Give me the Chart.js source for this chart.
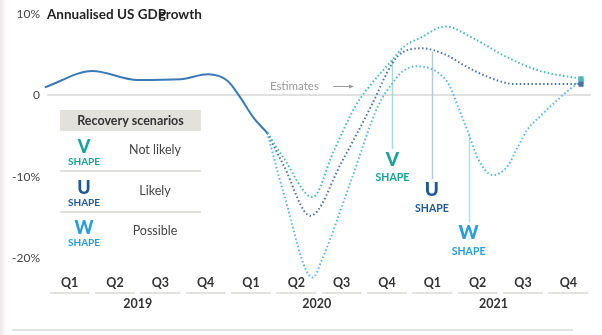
<!DOCTYPE html>
<html>
<head>
<meta charset="utf-8">
<script src="https://cdn.jsdelivr.net/npm/chart.js@4"></script>
<style>
  html, body { margin: 0; padding: 0; background: #fff; }
  #wrap { position: relative; width: 602px; height: 335px; }
  #edge { position: absolute; left: 0; top: 0; width: 7px; height: 335px;
          background: linear-gradient(90deg, #ece8e8, rgba(255,255,255,0)); }
</style>
</head>
<body>
<div id="wrap">
  <div id="edge"></div>
  <canvas id="gdpChart"></canvas>
</div>
<script>
// axis labels
const quarters = ["Q1", "Q2", "Q3", "Q4", "Q1", "Q2", "Q3", "Q4", "Q1", "Q2", "Q3", "Q4"];
const years = ["2019", "2020", "2021"];
const yTickValues = [10, 0, -10, -20];
const yTickLabels = ["10%", "0", "-10%", "-20%"];

// actual growth (x in quarters, 0 = Q1 2019)
const actualX = [-0.55, 0.5, 1.5, 2.45, 3.05, 3.48, 3.77, 4.05, 4.36];
const actualY = [1.0, 3.0, 1.9, 2.0, 2.6, 1.8, -0.3, -2.7, -4.6];

// recovery scenarios
const vX = [4.36, 4.72, 5.36, 5.82, 6.31, 6.64, 7.12, 7.37, 7.74, 8.29, 8.85, 9.58, 10.33, 11.28];
const vY = [-4.6, -7.7, -12.5, -6.9, -1.25, 1.3, 4.4, 6.0, 7.1, 8.5, 7.2, 4.9, 3.1, 2.05];

const uX = [4.36, 4.72, 5.31, 6.0, 6.67, 7.12, 7.37, 7.79, 8.26, 8.77, 9.22, 9.66, 9.88, 11.28];
const uY = [-4.6, -8.6, -14.8, -8.2, -1.1, 4.0, 5.4, 5.8, 5.1, 3.5, 2.3, 1.5, 1.4, 1.4];

const wX = [4.36, 4.72, 5.36, 5.58, 6.2, 6.81, 7.12, 7.34, 7.67, 7.93, 8.15, 8.37, 8.59, 8.8, 9.0, 9.33, 9.66, 9.88, 10.1, 10.39, 10.69, 11.06, 11.28];
const wY = [-4.6, -12.0, -22.4, -20.0, -10.6, -1.2, 1.5, 2.95, 3.6, 3.35, 2.7, 1.3, -1.7, -4.7, -7.7, -9.8, -8.7, -6.4, -4.2, -2.5, -0.9, 0.9, 1.75];

const scenarios = ["V", "U", "W"];
const likelihood = ["Not likely", "Likely", "Possible"];

const FONT = 'Lato, "Open Sans", sans-serif';
const colors = { actual: "#3a79b4", V: "#45bab0", U: "#4772a6", W: "#5ab3e8" };
const labelColors = { V: "#17a298", U: "#1c5a97", W: "#2a9bde" };

const pts = (xs, ys) => xs.map((x, i) => ({ x, y: ys[i] }));

function dotted(label, xs, ys, color) {
  return {
    label,
    data: pts(xs, ys),
    borderColor: color,
    backgroundColor: color,
    borderWidth: 2,
    borderDash: [1.5, 2.4],
    cubicInterpolationMode: "monotone",
    pointStyle: "rect",
    pointRadius: (c) => (c.dataIndex === xs.length - 1 ? 2.2 : 0),
    clip: false,
  };
}

// leader lines under the curves, in data units
const leaders = [
  { key: "V", x: 7.12, top: 4.4, bottom: -6.6, color: "#a6dbd6" },
  { key: "U", x: 7.99, top: 5.4, bottom: -10.3, color: "#b3c9df" },
  { key: "W", x: 8.8, top: -4.7, bottom: -15.6, color: "#b2daf2" },
];

const decorations = {
  id: "decorations",
  beforeDatasetsDraw(chart) {
    const { ctx } = chart;
    const xs = chart.scales.x, ys = chart.scales.y;
    ctx.save();
    ctx.lineWidth = 1.5;
    leaders.forEach((l) => {
      const px = Math.round(xs.getPixelForValue(l.x)) + 0.5;
      ctx.strokeStyle = l.color;
      ctx.beginPath();
      ctx.moveTo(px, ys.getPixelForValue(l.top));
      ctx.lineTo(px, ys.getPixelForValue(l.bottom));
      ctx.stroke();
    });
    ctx.restore();
  },
  afterDatasetsDraw(chart) {
    const { ctx } = chart;
    const xs = chart.scales.x, ys = chart.scales.y;
    ctx.save();
    ctx.textBaseline = "middle";

    // title (overprinted the way it was typeset)
    ctx.fillStyle = "#222";
    ctx.font = "bold 13.5px " + FONT;
    ctx.textAlign = "left";
    ctx.fillText("Annualised US GDP", 47, 15);
    ctx.fillText("growth", 47 + ctx.measureText("Annualised US GD").width + 1, 15);

    // estimates marker
    ctx.font = "11.5px " + FONT;
    ctx.fillStyle = "#9a9a9a";
    ctx.fillText("Estimates", 270, 86);
    ctx.strokeStyle = "#9a9a9a";
    ctx.lineWidth = 1;
    ctx.beginPath();
    ctx.moveTo(333, 86.5);
    ctx.lineTo(352, 86.5);
    ctx.stroke();
    ctx.beginPath();
    ctx.moveTo(354, 86.5);
    ctx.lineTo(349, 84.5);
    ctx.lineTo(349, 88.5);
    ctx.closePath();
    ctx.fillStyle = "#9a9a9a";
    ctx.fill();

    // quarter labels with underlines
    ctx.textAlign = "center";
    quarters.forEach((q, i) => {
      const px = xs.getPixelForValue(i);
      ctx.fillStyle = "#333";
      ctx.font = "bold 12.5px " + FONT;
      ctx.fillText(q, px, 283);
      ctx.fillStyle = "#e4e2de";
      ctx.fillRect(px - 20, 292, 40, 2);
    });
    const yearPos = [1.5, 5.45, 9.35];
    years.forEach((y, i) => {
      ctx.fillStyle = "#333";
      ctx.font = "bold 12.5px " + FONT;
      ctx.fillText(y, xs.getPixelForValue(yearPos[i]), 304);
    });
    ctx.fillStyle = "#e2e2e2";
    ctx.fillRect(12, 329, 561, 2);

    // scenario table
    ctx.fillStyle = "#e3e1dc";
    ctx.fillRect(60, 110, 141, 21);
    ctx.fillStyle = "#333";
    ctx.font = "bold 12.5px " + FONT;
    ctx.fillText("Recovery scenarios", 130.5, 121);
    const rowY = [147, 188, 228];
    scenarios.forEach((s, i) => {
      ctx.fillStyle = labelColors[s];
      ctx.font = "900 18px " + FONT;
      ctx.fillText(s, 84, rowY[i]);
      ctx.font = "bold 10px " + FONT;
      ctx.fillText("SHAPE", 84, rowY[i] + 15);
      ctx.fillStyle = "#444";
      ctx.font = "12.5px " + FONT;
      ctx.fillText(likelihood[i], 155, rowY[i] + 3);
      if (i < 2) {
        ctx.fillStyle = "#e2e0dc";
        ctx.fillRect(60, rowY[i] + 23, 141, 2);
      }
    });

    // scenario tags under the leader lines
    leaders.forEach((l) => {
      const px = xs.getPixelForValue(l.x);
      const py = ys.getPixelForValue(l.bottom);
      ctx.fillStyle = labelColors[l.key];
      ctx.font = "900 19px " + FONT;
      ctx.fillText(l.key, px, py + 11);
      ctx.font = "bold 10.5px " + FONT;
      ctx.fillText("SHAPE", px, py + 29);
    });
    ctx.restore();
  },
};

new Chart(document.getElementById("gdpChart"), {
  type: "line",
  data: {
    datasets: [
      {
        label: "Actual",
        data: pts(actualX, actualY),
        borderColor: colors.actual,
        borderWidth: 2,
        pointRadius: 0,
        cubicInterpolationMode: "monotone",
        clip: false,
      },
      dotted("V shape", vX, vY, colors.V),
      dotted("U shape", uX, uY, colors.U),
      dotted("W shape", wX, wY, colors.W),
    ],
  },
  options: {
    responsive: true,
    maintainAspectRatio: false,
    animation: false,
    layout: { padding: { top: 10, right: 11, bottom: 77, left: 0 } },
    plugins: { legend: { display: false }, tooltip: { enabled: false } },
    scales: {
      x: { type: "linear", min: -0.5, max: 11.5, display: false },
      y: {
        min: -20,
        max: 10,
        afterFit: (scale) => { scale.width = 47; },
        afterBuildTicks: (scale) => { scale.ticks = yTickValues.map((v) => ({ value: v })); },
        border: { display: false },
        grid: {
          drawTicks: false,
          lineWidth: 2,
          color: (c) => (c.tick && c.tick.value === 0 ? "#e0e0e0" : "rgba(0,0,0,0)"),
        },
        ticks: {
          padding: 7,
          color: "#444",
          font: { family: FONT, size: 12 },
          callback: (v) => yTickLabels[yTickValues.indexOf(v)],
        },
      },
    },
  },
  plugins: [decorations],
});
</script>
</body>
</html>
